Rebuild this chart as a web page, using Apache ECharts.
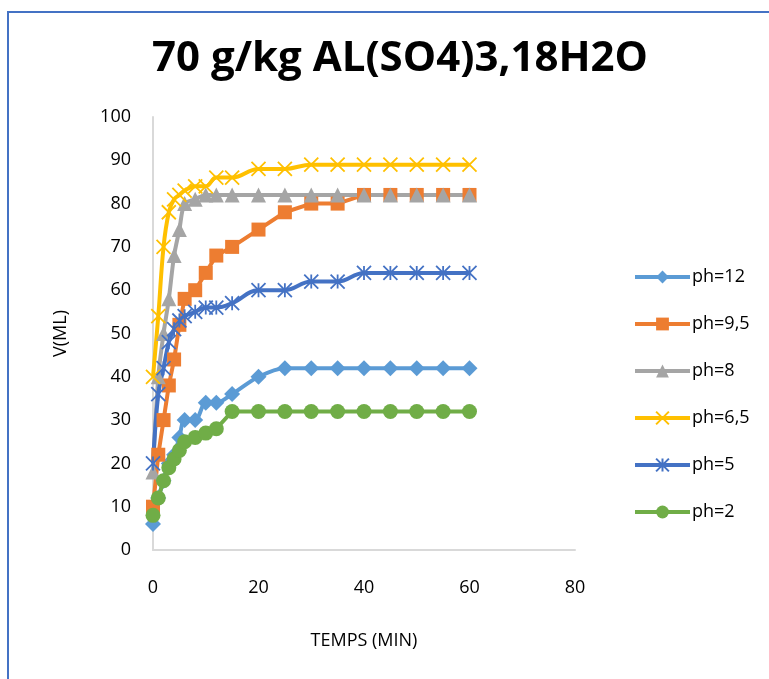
<!DOCTYPE html>
<html>
<head>
<meta charset="utf-8">
<script src="https://cdn.jsdelivr.net/npm/echarts@6/dist/echarts.min.js"></script>
<style>
  html, body { margin: 0; padding: 0; background: #fff; }
  #chart { width: 769px; height: 679px; }
</style>
</head>
<body>
<div id="chart"></div>
<script>
// temps (min)
var temps = [0, 1, 2, 3, 4, 5, 6, 8, 10, 12, 15, 20, 25, 30, 35, 40, 45, 50, 55, 60];
// V (mL) par pH
var ph12  = [6, 12, 16, 20, 22, 26, 30, 30, 34, 34, 36, 40, 42, 42, 42, 42, 42, 42, 42, 42];
var ph9_5 = [10, 22, 30, 38, 44, 52, 58, 60, 64, 68, 70, 74, 78, 80, 80, 82, 82, 82, 82, 82];
var ph8   = [18, 40, 50, 58, 68, 74, 80, 81, 82, 82, 82, 82, 82, 82, 82, 82, 82, 82, 82, 82];
var ph6_5 = [40, 54, 70, 78, 81, 82, 83, 84, 84, 86, 86, 88, 88, 89, 89, 89, 89, 89, 89, 89];
var ph5   = [20, 36, 42, 48, 51, 53, 54, 55, 56, 56, 57, 60, 60, 62, 62, 64, 64, 64, 64, 64];
var ph2   = [8, 12, 16, 19, 21, 23, 25, 26, 27, 28, 32, 32, 32, 32, 32, 32, 32, 32, 32, 32];

var titre = "70 g/kg AL(SO4)3,18H2O";

function pts(ys) {
  return temps.map(function (t, i) { return [t, ys[i]]; });
}

var FONT = "Open Sans";
var crossPath = "path://M0,0L10,10M10,0L0,10";
var starPath = "path://M5,0L5,10M0,0L10,10M10,0L0,10";

function serie(name, ys, color, symbol, size, smooth, stroked) {
  return {
    name: name,
    type: "line",
    data: pts(ys),
    smooth: smooth,
    symbol: symbol,
    symbolSize: size,
    showAllSymbol: true,
    lineStyle: { color: color, width: 4 },
    itemStyle: stroked
      ? { color: color, borderColor: color, borderWidth: 1.8 }
      : { color: color, borderWidth: 0 },
    emphasis: { disabled: true }
  };
}

var chart = echarts.init(document.getElementById("chart"));
chart.setOption({
  animation: false,
  backgroundColor: "#fff",
  graphic: [{
    type: "rect",
    shape: { x: 8, y: 12, width: 800, height: 700 },
    style: { fill: "none", stroke: "#4472C4", lineWidth: 2 }
  }],
  title: {
    text: titre,
    left: 395,
    textAlign: "center",
    top: 33,
    textStyle: { fontFamily: FONT, fontWeight: "bold", fontSize: 42, color: "#000" }
  },
  grid: { left: 153, top: 117, width: 422, height: 433, containLabel: false },
  legend: {
    orient: "vertical",
    left: 628,
    top: 263,
    itemWidth: 55,
    itemHeight: 16,
    itemGap: 29,
    lineStyle: { width: 4 },
    textStyle: { fontFamily: FONT, fontSize: 18, color: "#000", padding: [0, 0, 0, -3] },
    data: ["ph=12", "ph=9,5", "ph=8", "ph=6,5", "ph=5", "ph=2"]
  },
  xAxis: {
    type: "value",
    min: 0, max: 80, interval: 20,
    name: "TEMPS (MIN)",
    nameLocation: "middle",
    nameGap: 82,
    nameTextStyle: { fontFamily: FONT, fontSize: 18, color: "#000" },
    axisLine: { show: true, onZero: false, lineStyle: { color: "#D9D9D9", width: 2 } },
    axisTick: { show: false },
    splitLine: { show: false },
    axisLabel: { fontFamily: FONT, fontSize: 18, color: "#000", margin: 29 }
  },
  yAxis: {
    type: "value",
    min: 0, max: 100, interval: 10,
    name: "V(ML)",
    nameLocation: "middle",
    nameGap: 83,
    nameTextStyle: { fontFamily: FONT, fontSize: 18, color: "#000" },
    axisLine: { show: true, lineStyle: { color: "#D9D9D9", width: 2 } },
    axisTick: { show: false },
    splitLine: { show: false },
    axisLabel: { fontFamily: FONT, fontSize: 18, color: "#000", margin: 22 }
  },
  series: [
    serie("ph=12", ph12, "#5B9BD5", "diamond", 16, 0.3, false),
    serie("ph=9,5", ph9_5, "#ED7D31", "rect", 14, false, false),
    serie("ph=8", ph8, "#A5A5A5", "triangle", 15, 0.3, false),
    serie("ph=6,5", ph6_5, "#FFC000", crossPath, 14, 0.4, true),
    serie("ph=5", ph5, "#4472C4", starPath, 14, 0.4, true),
    serie("ph=2", ph2, "#70AD47", "circle", 15, false, false)
  ]
});
</script>
</body>
</html>
